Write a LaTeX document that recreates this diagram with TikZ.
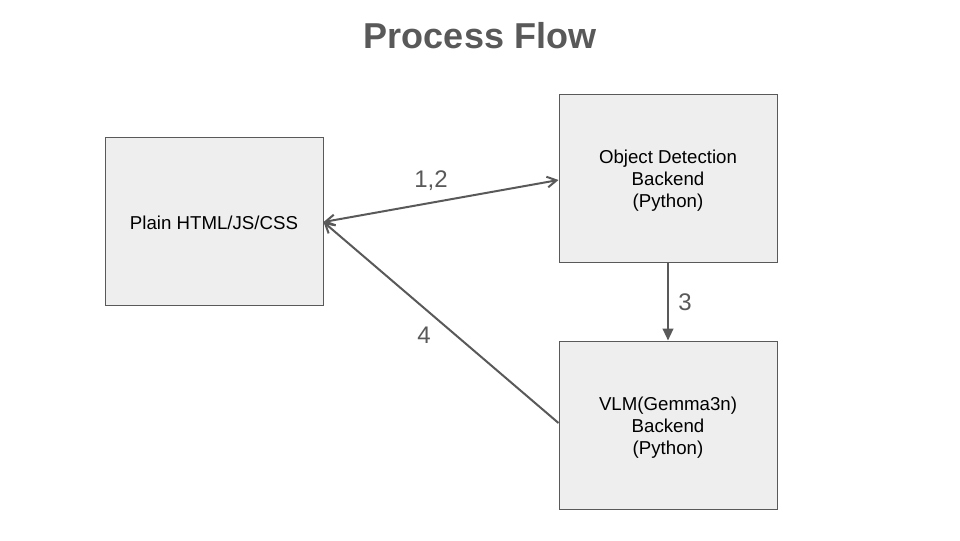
\documentclass[tikz,border=0pt]{standalone}
\usepackage{fontspec}
\setmainfont{Liberation Sans}
\usetikzlibrary{arrows.meta}
\definecolor{edgegray}{HTML}{595959}
\definecolor{boxfill}{HTML}{EEEEEE}
\tikzset{
  box/.style={draw=edgegray, fill=boxfill, line width=0.75pt, minimum width=218*0.75pt, minimum height=168*0.75pt, inner sep=0pt},
  boxtext/.style={align=center, font=\fontsize{14}{16.5}\selectfont, text=black, inner sep=0pt},
  conn/.style={draw=edgegray, line width=1.5pt},
  barb/.style={Straight Barb[length=7pt,width=8pt]},
  lbl/.style={text=edgegray, font=\fontsize{18}{20}\selectfont, inner sep=0pt},
}
\begin{document}
\begin{tikzpicture}[x=0.75pt, y=-0.75pt]
\useasboundingbox (0,0) rectangle (960,540);
\node[text=edgegray, font=\fontsize{27}{30}\selectfont\bfseries] (title) at (480,36) {Process Flow};
\node[box] (b1) at (214,221) {};
\node[box] (b2) at (668,178) {};
\node[box] (b3) at (668,425) {};
\node[boxtext] (t1) at ([yshift=-1.5pt]b1.center) {Plain HTML/JS/CSS};
\node[boxtext] (t2) at ([yshift=-2.25pt]b2.center) {Object Detection\\Backend\\(Python)};
\node[boxtext] (t3) at ([yshift=-2.25pt]b3.center) {VLM(Gemma3n)\\Backend\\(Python)};
\coordinate (e1) at ([yshift=-0.75pt]b1.east);
\coordinate (w2) at ([yshift=-1.5pt]b2.west);
\coordinate (w3) at ([yshift=1.5pt]b3.west);
\draw[conn, {Straight Barb[length=7pt,width=8pt]}-{Straight Barb[length=7pt,width=8pt]}] (e1) -- (w2);
\draw[conn, -{Straight Barb[length=7pt,width=8pt]}] (w3) -- (e1);
\draw[conn, -{Triangle[length=9pt,width=8pt]}] (b2.south) -- (b3.north);
\node[lbl] (l12) at (431,181) {1,2};
\node[lbl] (l3) at (685,302) {3};
\node[lbl] (l4) at (424,335) {4};
\end{tikzpicture}
\end{document}
